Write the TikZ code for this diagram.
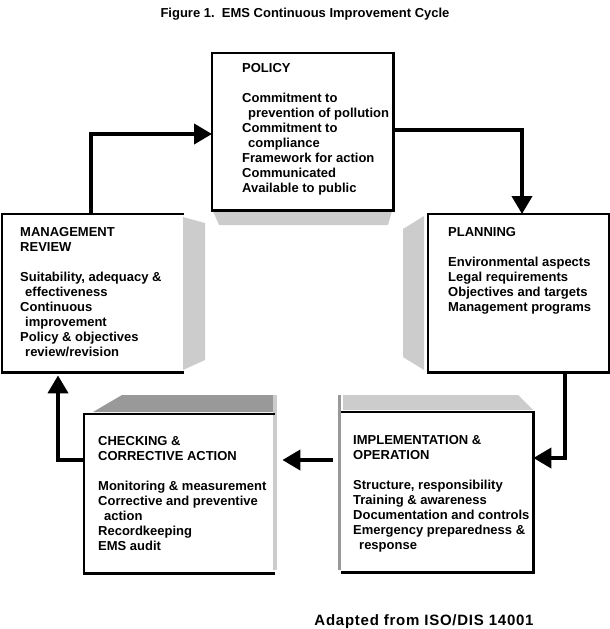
\documentclass[tikz,border=0pt]{standalone}
\usepackage{fontspec}
\setmainfont{Liberation Sans}
\newfontfamily\wideface[LetterSpace=5]{Liberation Sans}
\usepackage{tikz}
\usetikzlibrary{arrows.meta, positioning, calc}
\definecolor{panelLight}{HTML}{CCCCCC}
\definecolor{panelDark}{HTML}{999999}

\tikzset{
	stage/.style={rectangle, draw=none, inner sep=0pt, anchor=north west},
	stagetext/.style={anchor=north west, align=left, inner sep=0pt, font=\bfseries\fontsize{13}{15}\selectfont},
	frame/.style={line width=2.5pt, line cap=rect},
	flow/.style={line width=4pt, -{Triangle[length=18pt,width=20pt]}},
}

\begin{document}
\begin{tikzpicture}[x=1pt, y=-1pt]
	\useasboundingbox (0,0) rectangle (610,629);
	
	\node[font=\bfseries\fontsize{13}{15}\selectfont, anchor=base] (title) at (305,17) {Figure 1.\ \ EMS Continuous Improvement Cycle};
	
	% the five stages
	\node[stage, minimum width=181pt, minimum height=157pt] (pol) at (212,53) {};
	\node[stage, minimum width=180pt, minimum height=158pt] (mgmt) at (2,214) {};
	\node[stage, minimum width=181pt, minimum height=158pt] (plan) at (428,214) {};
	\node[stage, minimum width=189pt, minimum height=159pt] (chk) at (84,414) {};
	\node[stage, minimum width=191pt, minimum height=160pt] (impl) at (342,412) {};
	
	% grey sides
	\fill[panelLight] (213,211) -- (392,211) -- (388,225) -- (219,225) -- cycle;
	\fill[panelLight] (183,217) -- (205,223) -- (205,360) -- (183,370) -- cycle;
	\fill[panelLight] (403,229) -- (424,216) -- (424,370) -- (403,357) -- cycle;
	\fill[panelDark] (93,412) -- (122,395) -- (273,395) -- (273,412) -- cycle;
	\fill[panelLight] (273,395) rectangle (277,570);
	\fill[panelDark] (338,395) rectangle (341,570);
	\fill[panelLight] (343,395) -- (518,395) -- (533,410) -- (343,410) -- cycle;
	
	% frames
	\draw[frame] (pol.north west) rectangle (pol.south east);
	\draw[frame] (mgmt.north east) -- (mgmt.north west) -- (mgmt.south west) -- (mgmt.south east);
	\draw[frame] (plan.north west) rectangle (plan.south east);
	\draw[frame] (chk.north east) -- (chk.north west) -- (chk.south west) -- (chk.south east);
	\draw[frame] (impl.north west) -- (impl.north east) -- (impl.south east) -- (impl.south west);
	
	\node[stagetext] (poltext) at ([shift={(30,10.6)}]pol.north west) {POLICY\\[15pt]
		Commitment to\\
		\hspace*{6pt}prevention of pollution\\
		Commitment to\\
		\hspace*{6pt}compliance\\
		Framework for action\\
		Communicated\\
		Available to public};
	
	\node[stagetext] (mgmttext) at ([shift={(18,13.6)}]mgmt.north west) {MANAGEMENT\\
		REVIEW\\[15pt]
		Suitability, adequacy \&\\
		\hspace*{5pt}effectiveness\\
		Continuous\\
		\hspace*{5pt}improvement\\
		Policy \& objectives\\
		\hspace*{5pt}review/revision};
	
	\node[stagetext] (plantext) at ([shift={(20,13.6)}]plan.north west) {PLANNING\\[15pt]
		Environmental aspects\\
		Legal requirements\\
		Objectives and targets\\
		Management programs};
	
	\node[stagetext] (chktext) at ([shift={(14,22.6)}]chk.north west) {CHECKING \&\\
		CORRECTIVE ACTION\\[15pt]
		Monitoring \& measurement\\
		Corrective and preventive\\
		\hspace*{6pt}action\\
		Recordkeeping\\
		EMS audit};
	
	\node[stagetext] (impltext) at ([shift={(11,23.6)}]impl.north west) {IMPLEMENTATION \&\\
		OPERATION\\[15pt]
		Structure, responsibility\\
		Training \& awareness\\
		Documentation and controls\\
		Emergency preparedness \&\\
		\hspace*{6pt}response};
	
	% the cycle
	\coordinate (a1) at (91,134);
	\coordinate (a2) at (522,130);
	\coordinate (a3) at (565,458);
	\coordinate (a4) at (0,460);
	\coordinate (a5) at (58,460);
	\draw[flow] (mgmt.north west -| a1) |- (pol.west |- a1);
	\draw[flow] (pol.east |- a2) -| (plan.north -| a2);
	\draw[flow] (plan.south -| a3) |- (impl.east |- a3);
	\draw[flow] ([xshift=-9pt]impl.west |- a4) -- ([xshift=9pt]chk.east |- a4);
	\draw[flow] (chk.west |- a5) -| ([yshift=-3pt]mgmt.south -| a5);
	
	\node[font=\wideface\bfseries\fontsize{15}{18}\selectfont, anchor=base] (src) at (424,625) {Adapted from ISO/DIS 14001};
\end{tikzpicture}
\end{document}
